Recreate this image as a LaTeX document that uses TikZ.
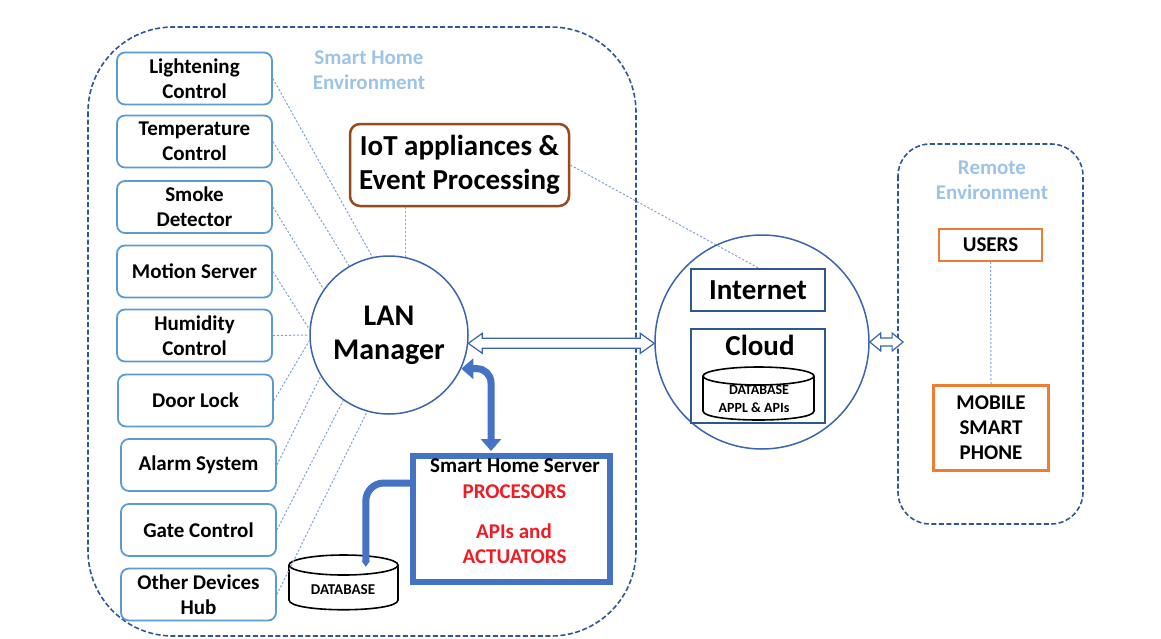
\documentclass[tikz,border=0pt]{standalone}
\usepackage{fontspec}
\setmainfont{Carlito}
\usetikzlibrary{arrows.meta,calc}
\definecolor{devblue}{RGB}{91,155,213}
\definecolor{envblue}{RGB}{47,85,151}
\definecolor{circblue}{RGB}{59,100,173}
\definecolor{linkblue}{RGB}{130,160,215}
\definecolor{envtext}{RGB}{157,195,230}
\definecolor{iotbrown}{RGB}{150,75,30}
\definecolor{srvblue}{RGB}{68,114,196}
\definecolor{orng}{RGB}{237,125,49}
\definecolor{redtxt}{RGB}{238,28,37}
\newcommand\devfnt{\fontsize{21}{25}\selectfont\bfseries}
\newcommand\envfnt{\fontsize{21}{25}\selectfont\bfseries}
\newcommand\bigfnt{\fontsize{29}{34}\selectfont\bfseries}
\newcommand\lanfnt{\fontsize{30}{34}\selectfont\bfseries}
\newcommand\srvfnt{\fontsize{21}{25}\selectfont\bfseries}
\newcommand\dbfnt{\fontsize{14}{17}\selectfont\bfseries}
% hollow horizontal double arrow between two coordinates
\newcommand\hollowdarrow[5]{% #1 start, #2 end, #3 head length, #4 head half height, #5 shaft half height
  \draw[harrow] (#1) -- ++(#3,-#4) -- ++(0,#4-#5) -- ($(#2)+(-#3,-#5)$) -- ++(0,#5-#4) -- (#2)
    -- ++(-#3,#4) -- ++(0,#5-#4) -- ($(#1)+(#3,#5)$) -- ++(0,#4-#5) -- cycle;}
\tikzset{
  dev/.style={draw=devblue, line width=1.8pt, rounded corners=8pt, minimum width=155pt,
    minimum height=52pt, align=center, font=\devfnt, inner sep=2pt},
  link/.style={draw=linkblue, line width=1pt, dash pattern=on 2.2pt off 1.8pt},
  envline/.style={draw=envblue, line width=1.6pt, dash pattern=on 5pt off 2.5pt},
  envlabel/.style={text=envtext, font=\envfnt, align=center},
  harrow/.style={draw=circblue, line width=1.2pt, fill=white, line join=miter},
  thickarrow/.style={draw=srvblue, line width=7pt},
  drumline/.style={draw=black, line width=1.6pt},
  orbox/.style={draw=orng, font=\devfnt, align=center, inner sep=2pt},
  netbox/.style={draw=envblue, line width=2.4pt, inner sep=2pt},
}
\begin{document}
\begin{tikzpicture}[x=1pt,y=-1pt]
\useasboundingbox (0,0) rectangle (1161,638);

% environments
\draw[envline, rounded corners=85pt] (88,27) rectangle (636,636);
\draw[envline, rounded corners=32pt] (898,144) rectangle (1083,524);
\node[envlabel] (shelabel) at (369,70) {Smart Home\\Environment};
\node[envlabel] (relabel) at (992,180) {Remote\\Environment};

% device boxes
\node[dev] (d1) at (194.5,78.5) {Lightening\\Control};
\node[dev] (d2) at (194.5,141.5) {Temperature\\Control};
\node[dev] (d3) at (194.5,207) {Smoke\\Detector};
\node[dev] (d4) at (194.5,271.5) {Motion Server};
\node[dev] (d5) at (194.5,335.5) {Humidity\\Control};
\node[dev] (d6) at (195.5,400.5) {Door Lock};
\node[dev] (d7) at (198.5,465) {Alarm System};
\node[dev] (d8) at (198.5,530) {Gate Control};
\node[dev] (d9) at (198.5,594.5) {Other Devices\\Hub};

% LAN manager
\node[circle, draw=circblue, line width=1.5pt, minimum size=158pt, inner sep=0pt,
  align=center, font=\lanfnt] (lan) at (389,335) {LAN\\Manager};

% IoT box
\node[draw=iotbrown, line width=2.5pt, rounded corners=10pt, minimum width=219pt,
  minimum height=82pt, align=center, font=\bigfnt, inner sep=2pt] (iot) at (459.5,165)
  {IoT appliances \&\\Event Processing};

% Internet / cloud
\node[circle, draw=circblue, line width=1.5pt, minimum size=214pt, inner sep=0pt] (cc) at (762,342) {};
\node[netbox, minimum width=134pt, minimum height=42pt, font=\bigfnt] (inet) at (758,290) {Internet};
\node[netbox, minimum width=134pt, minimum height=94pt] (cloud) at (758,376) {};
\node[font=\bigfnt, anchor=base] (cloudtxt) at (760,355) {Cloud};
% cloud database
\draw[drumline, fill=white] (703,376) -- (703,411) .. controls (703,423) and (814,423) .. (814,411) -- (814,376);
\draw[drumline] (758.5,376) ellipse [x radius=55.5pt, y radius=9pt];
\node[font=\dbfnt, anchor=base] (cdb1) at (759,394) {DATABASE};
\node[font=\dbfnt, anchor=base] (cdb2) at (754,412) {APPL \& APIs};

% remote
\node[orbox, line width=1.8pt, minimum width=103pt, minimum height=32pt] (users) at (990.5,245) {USERS};
\node[orbox, line width=3.5pt, minimum width=115pt, minimum height=85pt] (mobile) at (991,428)
  {MOBILE\\SMART\\PHONE};

% server
\node[draw=srvblue, line width=6pt, minimum width=197pt, minimum height=126pt, inner sep=0pt] (srv) at (511.5,519) {};
\node[font=\srvfnt, anchor=base] (s1) at (515,472) {Smart Home Server};
\node[font=\srvfnt, text=redtxt, anchor=base] (s2) at (514.5,498) {PROCESORS};
\node[font=\srvfnt, text=redtxt, anchor=base] (s3) at (514,538) {APIs and};
\node[font=\srvfnt, text=redtxt, anchor=base] (s4) at (514.5,563) {ACTUATORS};

% home database
\node[minimum width=109pt, minimum height=55pt, inner sep=0pt] (dbh) at (343.5,582.5) {};
\draw[drumline, fill=white] (289,565) -- (289,600) .. controls (289,613) and (398,613) .. (398,600) -- (398,565);
\draw[drumline, fill=white] (343.5,565) ellipse [x radius=54.5pt, y radius=10pt];
\node[font=\fontsize{15}{18}\selectfont\bfseries, anchor=base] (dbtxt) at (343,594) {DATABASE};

% dotted links
\draw[link] (d1.east) -- (lan.102);
\draw[link] (d2.east) -- (lan.120);
\draw[link] (d3.east) -- (lan.145);
\draw[link] (d4.east) -- (lan.176);
\draw[link] (d5.east) -- (lan.180);
\draw[link] (d6.east) -- (lan.184);
\draw[link] (d7.east) -- (lan.211);
\draw[link] (d8.east) -- (lan.235);
\draw[link] (d9.east) -- (lan.254);
\draw[link] (lan.78) -- (lan.78 |- iot.south);
\draw[link] (iot.east) -- (inet.north);
\draw[link] (users.south) -- (mobile.north);

% hollow double arrows
\coordinate (la) at (lan.-6);
\coordinate (lb) at (cc.west |- la);
\hollowdarrow{la}{lb}{14}{10}{5}
\coordinate (ra) at (cc.east);
\coordinate (rb) at ($(ra -| users.west)+(-35,0)$);
\hollowdarrow{ra}{rb}{11}{9}{4}

% thick server arrows
\draw[thickarrow, rounded corners=14pt, {Triangle[width=20pt,length=12pt]}-{Triangle[width=20pt,length=12pt]}]
  (lan.-25) -| ($(srv.north west)+(81,-2)$);
\draw[thickarrow, rounded corners=18pt, -{Triangle[width=8pt,length=6pt]}]
  ($(srv.north west)+(0,30)$) -| ($(dbh.north west)+(77,12)$);
\end{tikzpicture}
\end{document}
